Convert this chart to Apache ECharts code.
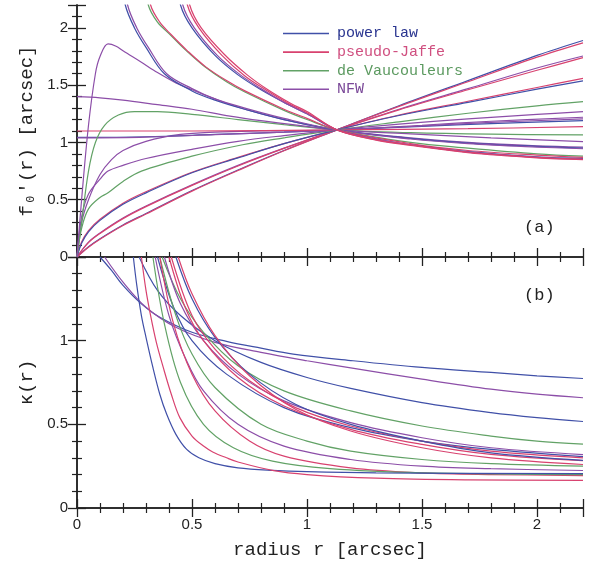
<!DOCTYPE html>
<html>
<head>
<meta charset="UTF-8">
<title>f0'(r) and kappa(r)</title>
<script src="https://cdn.jsdelivr.net/npm/echarts@6/dist/echarts.min.js"></script>
<style>
  html, body { margin: 0; padding: 0; background: #fff; }
  #main { width: 589px; height: 567px; }
</style>
</head>
<body>
<div id="main"></div>
<script>
// model families (legend)
var families = ['power law', 'pseudo-Jaffe', 'de Vaucouleurs', 'NFW'];

// ---- panel (a): f0'(r), points [r, f0'] ----
var aPeak     = [[0,0],[0.02,0.5],[0.05,1.15],[0.08,1.6],[0.1,1.75],[0.135,1.86],[0.17,1.84],[0.2,1.8],[0.28,1.7],[0.35,1.61],[0.43,1.52],[0.5,1.46],[0.6,1.38],[0.73,1.29],[0.9,1.2],[1.13,1.11],[1.45,1.04],[1.7,1.0],[2.0,0.97],[2.2,0.96]];
var aSteep1   = [[0.19,2.5],[0.21,2.2],[0.25,2.0],[0.3,1.83],[0.38,1.6],[0.5,1.45],[0.6,1.37],[0.73,1.29],[0.9,1.2],[1.13,1.11],[1.45,1.035],[1.7,0.995],[2.0,0.965],[2.2,0.95]];
var aSteep2   = [[0.2,2.5],[0.22,2.2],[0.26,2.0],[0.31,1.83],[0.39,1.6],[0.5,1.47],[0.6,1.38],[0.73,1.3],[0.9,1.21],[1.13,1.11],[1.45,1.03],[1.7,0.99],[2.0,0.96],[2.2,0.945]];
var aSteep3   = [[0.29,2.5],[0.31,2.2],[0.35,2.05],[0.4,1.95],[0.47,1.81],[0.55,1.67],[0.65,1.53],[0.73,1.44],[0.9,1.28],[1.0,1.2],[1.13,1.11],[1.45,1.0],[1.7,0.95],[2.0,0.9],[2.2,0.88]];
var aSteep4   = [[0.3,2.5],[0.32,2.2],[0.36,2.05],[0.41,1.94],[0.48,1.8],[0.56,1.66],[0.65,1.54],[0.73,1.45],[0.9,1.29],[1.0,1.21],[1.13,1.11],[1.45,0.99],[1.7,0.93],[2.0,0.89],[2.2,0.87]];
var aSteep5   = [[0.43,2.5],[0.45,2.2],[0.5,2.0],[0.6,1.76],[0.7,1.59],[0.8,1.46],[0.9,1.35],[1.0,1.25],[1.13,1.11],[1.3,1.03],[1.45,0.98],[1.7,0.92],[2.0,0.875],[2.2,0.86]];
var aSteep6   = [[0.44,2.5],[0.46,2.2],[0.51,2.0],[0.61,1.76],[0.71,1.59],[0.8,1.47],[0.9,1.35],[1.0,1.25],[1.13,1.11],[1.3,1.03],[1.45,0.98],[1.7,0.915],[2.0,0.87],[2.2,0.855]];
var aSteep7   = [[0.46,2.5],[0.48,2.2],[0.53,2.0],[0.63,1.76],[0.73,1.58],[0.82,1.46],[0.92,1.34],[1.0,1.26],[1.13,1.11],[1.3,1.02],[1.45,0.975],[1.7,0.91],[2.0,0.865],[2.2,0.85]];
var aSteep8   = [[0.47,2.5],[0.49,2.2],[0.54,2.0],[0.64,1.77],[0.74,1.59],[0.83,1.46],[0.93,1.34],[1.0,1.27],[1.13,1.11],[1.3,1.025],[1.45,0.98],[1.7,0.915],[2.0,0.87],[2.2,0.853]];
var aFlat140  = [[0,1.4],[0.1,1.39],[0.2,1.37],[0.35,1.33],[0.5,1.29],[0.665,1.23],[0.8,1.19],[1.0,1.14],[1.13,1.11],[1.45,1.075],[1.8,1.04],[2.2,1.007]];
var aBump     = [[0,0],[0.02,0.3],[0.05,0.75],[0.08,1.0],[0.12,1.15],[0.18,1.24],[0.25,1.27],[0.35,1.27],[0.5,1.245],[0.7,1.2],[0.9,1.155],[1.13,1.11],[1.45,1.085],[1.8,1.072],[2.2,1.066]];
var aFlat110  = [[0,1.1],[0.5,1.1],[1.13,1.11],[1.7,1.12],[2.2,1.138]];
var aFlat104  = [[0,1.045],[0.3,1.05],[0.6,1.07],[0.9,1.09],[1.13,1.11],[1.5,1.14],[1.8,1.165],[2.2,1.19]];
var aFlat104b = [[0,1.04],[0.3,1.047],[0.6,1.068],[0.9,1.09],[1.13,1.11],[1.5,1.145],[1.8,1.175],[2.2,1.205]];
var aSat      = [[0,0],[0.02,0.3],[0.05,0.5],[0.1,0.72],[0.15,0.85],[0.2,0.93],[0.3,1.01],[0.45,1.07],[0.6,1.09],[0.8,1.1],[1.13,1.11],[1.5,1.15],[1.8,1.185],[2.2,1.22]];
var aRise1    = [[0,0],[0.02,0.35],[0.05,0.55],[0.1,0.68],[0.135,0.75],[0.2,0.8],[0.3,0.86],[0.5,0.94],[0.7,1.01],[0.9,1.06],[1.13,1.11],[1.4,1.16],[1.7,1.205],[2.0,1.245],[2.2,1.269]];
var aRise2    = [[0,0],[0.02,0.25],[0.05,0.42],[0.1,0.52],[0.135,0.56],[0.2,0.66],[0.28,0.75],[0.5,0.88],[0.72,0.98],[0.9,1.04],[1.13,1.11],[1.4,1.18],[1.7,1.255],[2.0,1.32],[2.2,1.356]];
var aRise3    = [[0,0],[0.02,0.13],[0.05,0.23],[0.1,0.33],[0.2,0.47],[0.3,0.57],[0.5,0.74],[0.7,0.87],[0.9,0.99],[1.13,1.11],[1.4,1.24],[1.7,1.36],[2.0,1.48],[2.2,1.56]];
var aRise4    = [[0,0],[0.02,0.12],[0.05,0.22],[0.1,0.32],[0.2,0.46],[0.3,0.56],[0.5,0.735],[0.7,0.865],[0.9,0.99],[1.13,1.11],[1.4,1.235],[1.7,1.35],[2.0,1.465],[2.2,1.537]];
var aRise5    = [[0,0],[0.05,0.13],[0.1,0.21],[0.2,0.34],[0.3,0.445],[0.5,0.63],[0.7,0.8],[0.9,0.95],[1.13,1.11],[1.4,1.29],[1.7,1.47],[2.0,1.65],[2.2,1.755]];
var aRise6    = [[0,0],[0.05,0.125],[0.1,0.205],[0.2,0.335],[0.3,0.44],[0.5,0.625],[0.7,0.795],[0.9,0.948],[1.13,1.11],[1.4,1.285],[1.7,1.46],[2.0,1.63],[2.2,1.74]];
var aRise7    = [[0,0],[0.05,0.09],[0.1,0.16],[0.2,0.28],[0.3,0.38],[0.5,0.58],[0.7,0.76],[0.9,0.93],[1.13,1.11],[1.4,1.32],[1.7,1.54],[2.0,1.76],[2.2,1.89]];
var aRise8    = [[0,0],[0.05,0.085],[0.1,0.155],[0.2,0.275],[0.3,0.375],[0.5,0.575],[0.7,0.755],[0.9,0.928],[1.13,1.11],[1.4,1.315],[1.7,1.53],[2.0,1.745],[2.2,1.87]];

// ---- panel (b): kappa(r), points [r, kappa] ----
var bGentle1 = [[0.1,1.5],[0.15,1.42],[0.2,1.33],[0.28,1.22],[0.36,1.14],[0.5,1.05],[0.65,0.996],[0.8,0.955],[0.94,0.92],[1.2,0.88],[1.5,0.84],[1.8,0.81],[2.0,0.79],[2.2,0.774]];
var bGentle2 = [[0.12,1.5],[0.2,1.35],[0.3,1.2],[0.43,1.08],[0.6,0.99],[0.8,0.93],[1.0,0.88],[1.19,0.837],[1.5,0.77],[1.8,0.71],[2.0,0.68],[2.2,0.659]];
var bGentle3 = [[0.27,1.5],[0.35,1.3],[0.45,1.15],[0.6,1.0],[0.8,0.87],[1.0,0.78],[1.19,0.715],[1.5,0.63],[1.8,0.57],[2.0,0.54],[2.2,0.517]];
var bMid1    = [[0.37,1.5],[0.45,1.25],[0.55,1.05],[0.7,0.85],[0.9,0.7],[1.19,0.58],[1.5,0.49],[1.8,0.43],[2.0,0.4],[2.2,0.382]];
var bMid2    = [[0.38,1.5],[0.45,1.22],[0.55,1.0],[0.7,0.8],[0.9,0.64],[1.19,0.51],[1.5,0.42],[1.8,0.36],[2.2,0.319]];
var bMid3    = [[0.35,1.5],[0.42,1.2],[0.5,1.0],[0.65,0.8],[0.9,0.6],[1.19,0.48],[1.5,0.4],[1.8,0.35],[2.2,0.307]];
var bMid4    = [[0.4,1.5],[0.47,1.2],[0.55,1.0],[0.7,0.78],[0.9,0.61],[1.19,0.47],[1.5,0.38],[1.8,0.32],[2.2,0.283]];
var bMid5    = [[0.41,1.5],[0.5,1.15],[0.6,0.95],[0.75,0.76],[0.95,0.6],[1.19,0.49],[1.5,0.4],[1.8,0.34],[2.2,0.3]];
var bMid6    = [[0.36,1.5],[0.43,1.15],[0.5,0.92],[0.6,0.72],[0.8,0.5],[1.0,0.4],[1.19,0.34],[1.5,0.29],[1.8,0.265],[2.2,0.25]];
var bMid7    = [[0.34,1.5],[0.4,1.15],[0.47,0.9],[0.55,0.7],[0.7,0.5],[0.9,0.37],[1.19,0.29],[1.5,0.25],[1.8,0.235],[2.2,0.224]];
var bMid8    = [[0.36,1.5],[0.42,1.1],[0.5,0.8],[0.6,0.58],[0.75,0.4],[0.9,0.31],[1.19,0.24],[1.5,0.21],[1.8,0.2],[2.2,0.194]];
var bMid9    = [[0.43,1.5],[0.5,1.25],[0.6,1.02],[0.75,0.8],[0.95,0.62],[1.19,0.5],[1.5,0.4],[1.8,0.33],[2.2,0.285]];
var bMid10   = [[0.44,1.5],[0.5,1.28],[0.6,1.03],[0.75,0.79],[0.95,0.59],[1.19,0.46],[1.5,0.36],[1.8,0.3],[2.2,0.26]];
var bMid11   = [[0.33,1.5],[0.38,1.1],[0.45,0.75],[0.55,0.5],[0.68,0.36],[0.85,0.28],[1.1,0.235],[1.5,0.21],[2.2,0.2]];
var bSharp1  = [[0.245,1.5],[0.26,1.33],[0.28,1.15],[0.3,1.02],[0.33,0.84],[0.36,0.68],[0.39,0.56],[0.43,0.44],[0.477,0.35],[0.53,0.3],[0.6,0.265],[0.7,0.24],[0.85,0.225],[1.0,0.217],[1.3,0.21],[2.2,0.205]];
var bSharp2  = [[0.28,1.5],[0.3,1.3],[0.32,1.15],[0.345,0.99],[0.375,0.84],[0.41,0.68],[0.447,0.54],[0.5,0.43],[0.55,0.37],[0.59,0.335],[0.65,0.3],[0.7,0.275],[0.85,0.225],[1.0,0.2],[1.3,0.178],[1.7,0.168],[2.2,0.165]];

var colors = { 'power law': '#4050a8', 'pseudo-Jaffe': '#d8426f', 'de Vaucouleurs': '#62a266', 'NFW': '#8c4ea8' };
var textColors = { 'power law': '#2a3590', 'pseudo-Jaffe': '#d05080', 'de Vaucouleurs': '#5c9a60', 'NFW': '#7a4898' };

// [data, family]
var panelA = [
  [aRise7,'power law'],[aRise8,'pseudo-Jaffe'],[aRise5,'NFW'],[aRise6,'pseudo-Jaffe'],
  [aRise3,'pseudo-Jaffe'],[aRise4,'power law'],[aRise2,'de Vaucouleurs'],[aRise1,'NFW'],
  [aSat,'NFW'],[aFlat104,'power law'],[aFlat104b,'NFW'],[aFlat110,'pseudo-Jaffe'],
  [aBump,'de Vaucouleurs'],[aFlat140,'NFW'],[aPeak,'NFW'],
  [aSteep1,'power law'],[aSteep2,'NFW'],[aSteep3,'de Vaucouleurs'],[aSteep4,'pseudo-Jaffe'],
  [aSteep5,'power law'],[aSteep6,'NFW'],[aSteep7,'pseudo-Jaffe'],[aSteep8,'pseudo-Jaffe']
];
var panelB = [
  [bGentle1,'power law'],[bGentle2,'NFW'],[bGentle3,'power law'],
  [bMid1,'de Vaucouleurs'],[bMid2,'NFW'],[bMid3,'power law'],[bMid4,'pseudo-Jaffe'],
  [bMid5,'pseudo-Jaffe'],[bMid6,'de Vaucouleurs'],[bMid7,'NFW'],[bMid8,'pseudo-Jaffe'],
  [bMid9,'power law'],[bMid10,'pseudo-Jaffe'],[bMid11,'de Vaucouleurs'],
  [bSharp1,'power law'],[bSharp2,'pseudo-Jaffe']
];

var series = [];
function addCurves(list, xi, yi) {
  list.forEach(function (c) {
    series.push({
      type: 'line', name: c[1], data: c[0],
      xAxisIndex: xi, yAxisIndex: yi,
      symbol: 'none', smooth: 0.35, clip: true, silent: true,
      lineStyle: { color: colors[c[1]], width: 1.2 },
      itemStyle: { color: colors[c[1]] }
    });
  });
}
addCurves(panelA, 0, 0);
addCurves(panelB, 2, 2);

var tickFont = { fontFamily: 'Liberation Sans', fontSize: 15, color: '#222' };
var axLine = { lineStyle: { color: '#222', width: 1.5 } };

function xAx(grid, pos, labels, name) {
  return {
    type: 'value', gridIndex: grid, position: pos, min: 0, max: 2.2, interval: 0.5,
    axisLine: axLine, splitLine: { show: false },
    axisTick: { inside: true, length: 9, lineStyle: { color: '#222', width: 1.3 } },
    minorTick: { show: true, splitNumber: 5, length: 5, lineStyle: { color: '#222', width: 1.2 } },
    axisLabel: Object.assign({ show: labels, margin: 9, showMaxLabel: false }, tickFont),
    name: name || '', nameLocation: 'middle', nameGap: 32,
    nameTextStyle: { fontFamily: 'Liberation Mono', fontSize: 19, color: '#222' }
  };
}
function yAx(grid, pos, max, labels, name) {
  return {
    type: 'value', gridIndex: grid, position: pos, min: 0, max: max, interval: 0.5,
    axisLine: axLine, splitLine: { show: false },
    axisTick: { inside: true, length: 9, lineStyle: { color: '#222', width: 1.3 } },
    minorTick: { show: true, splitNumber: 5, length: 5, lineStyle: { color: '#222', width: 1.2 } },
    axisLabel: Object.assign({ show: labels, margin: 9, showMaxLabel: false }, tickFont),
    name: name || '', nameLocation: 'middle', nameGap: 36, nameRotate: 90,
    nameTextStyle: { fontFamily: 'Liberation Mono', fontSize: 19, color: '#222' }
  };
}

var myChart = echarts.init(document.getElementById('main'), null, { renderer: 'canvas' });

var option = {
  animation: false,
  backgroundColor: '#fff',
  grid: [
    { left: 77, top: 5, width: 506, height: 252 },
    { left: 77, top: 257, width: 506, height: 251 }
  ],
  xAxis: [
    xAx(0, 'bottom', false),
    xAx(0, 'top', false),
    xAx(1, 'bottom', true, 'radius r [arcsec]'),
    xAx(1, 'top', false)
  ],
  yAxis: [
    yAx(0, 'left', 2.2, true, "f\u2080'(r) [arcsec]"),
    yAx(0, 'right', 2.2, false),
    yAx(1, 'left', 1.5, true, '\u03ba(r)'),
    yAx(1, 'right', 1.5, false)
  ],
  legend: {
    orient: 'vertical', left: 283, top: 26, padding: 0,
    itemWidth: 46, itemHeight: 14, itemGap: 3.6,
    icon: 'path://M0,0H46V1.6H0Z',
    symbolKeepAspect: true,
    data: families.map(function (f) {
      return { name: f, itemStyle: { color: colors[f] }, textStyle: { color: textColors[f] } };
    }),
    textStyle: { fontFamily: 'Liberation Mono', fontSize: 15, padding: [0, 0, 0, 3] },
    selectedMode: false
  },
  graphic: [
    { type: 'text', left: 524, top: 219, style: { text: '(a)', font: '17px "Liberation Mono"', fill: '#222' } },
    { type: 'text', left: 524, top: 287, style: { text: '(b)', font: '17px "Liberation Mono"', fill: '#222' } }
  ],
  series: series
};

myChart.setOption(option);
</script>
</body>
</html>
